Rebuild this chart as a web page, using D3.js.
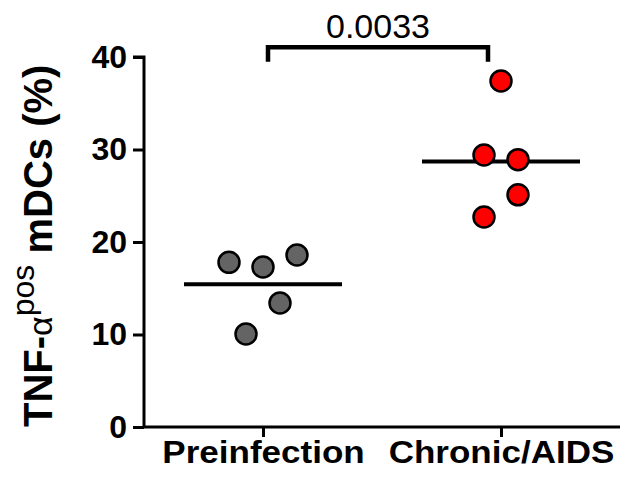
<!DOCTYPE html>
<html>
<head>
<meta charset="utf-8">
<script src="https://cdn.jsdelivr.net/npm/d3@7"></script>
<style>
  html, body { margin: 0; padding: 0; background: #fff; }
  svg { display: block; font-family: "Liberation Sans", Arial, Helvetica, sans-serif; }
</style>
</head>
<body>
<svg id="chart" width="621" height="478"></svg>
<script>
// ---- data ----
const categories = ["Preinfection", "Chronic/AIDS"];
const preinfection = [17.8, 17.3, 18.6, 13.4, 10.05];
const chronicAIDS = [37.4, 29.4, 28.9, 25.1, 22.7];
const preSlots = [-2, 0, 2, 1, -1];      // horizontal scatter slot of each point
const chronicSlots = [0, -1, 1, 1, -1];
const yTicks = [0, 10, 20, 30, 40];
const pValue = "0.0033";
const series = [
  { cat: categories[0], values: preinfection, slots: preSlots, fill: "#646464" },
  { cat: categories[1], values: chronicAIDS, slots: chronicSlots, fill: "#ff0000" }
];

const svg = d3.select("#chart");
const plotL = 144, plotR = 620, plotT = 57, plotB = 427;

const x = d3.scalePoint().domain(categories).range([plotL, plotR]).padding(0.5);
const y = d3.scaleLinear().domain([0, 40]).range([plotB, plotT]);
const slotW = 17;

// y axis
const yAxis = svg.append("g")
  .attr("transform", `translate(${plotL},0)`)
  .call(d3.axisLeft(y).tickValues(yTicks).tickSize(11).tickPadding(6).tickFormat(d3.format("d")));
yAxis.select(".domain").attr("stroke", "#000").attr("stroke-width", 3).attr("d", `M-11,${plotT}H0V${plotB}`);
yAxis.selectAll(".tick line").attr("stroke", "#000").attr("stroke-width", 3);
yAxis.selectAll(".tick text")
  .attr("fill", "#000").attr("font-size", 32).attr("font-weight", "bold")
  .attr("font-family", "Liberation Sans, Arial, sans-serif");

// x axis
const xAxis = svg.append("g")
  .attr("transform", `translate(0,${plotB})`)
  .call(d3.axisBottom(x).tickSize(10).tickPadding(4));
xAxis.select(".domain").attr("stroke", "#000").attr("stroke-width", 3).attr("d", `M${plotL},0H${plotR}`);
xAxis.selectAll(".tick line").attr("stroke", "#000").attr("stroke-width", 3);
xAxis.selectAll(".tick text")
  .attr("fill", "#000").attr("font-size", 31).attr("font-weight", "bold")
  .attr("font-family", "Liberation Sans, Arial, sans-serif")
  .attr("transform", "scale(1.13,1)");

// y title
const title = svg.append("text")
  .attr("transform", `translate(52,${plotB}) rotate(-90)`)
  .attr("text-anchor", "start")
  .attr("fill", "#000");
title.append("tspan").attr("font-size", 40).attr("font-weight", "bold").text("TNF-");
title.append("tspan").attr("font-size", 34).attr("font-weight", "normal").text("α");
title.append("tspan").attr("font-size", 32).attr("font-weight", "normal").attr("dy", -18).text("pos");
title.append("tspan").attr("font-size", 40).attr("font-weight", "bold").attr("dy", 18).text("\u00a0mDCs (%)");

// mean lines
series.forEach(s => {
  const m = d3.mean(s.values);
  svg.append("line")
    .attr("x1", x(s.cat) - 79).attr("x2", x(s.cat) + 79)
    .attr("y1", y(m)).attr("y2", y(m))
    .attr("stroke", "#000").attr("stroke-width", 4);
});

// points
series.forEach(s => {
  svg.append("g").selectAll("circle")
    .data(s.values.map((v, i) => ({ v, slot: s.slots[i] })))
    .join("circle")
    .attr("cx", d => x(s.cat) + d.slot * slotW)
    .attr("cy", d => y(d.v))
    .attr("r", 10.5)
    .attr("fill", s.fill)
    .attr("stroke", "#000")
    .attr("stroke-width", 2.5);
});

// significance bracket
const bx1 = x(categories[0]) + 5, bx2 = x(categories[1]) - 13;
const byTop = y(41.05), byLeg = y(39.5);
svg.append("path")
  .attr("d", `M${bx1},${byLeg}V${byTop}H${bx2}V${byLeg}`)
  .attr("fill", "none").attr("stroke", "#000").attr("stroke-width", 4.5);
svg.append("text")
  .attr("x", (bx1 + bx2) / 2).attr("y", 38)
  .attr("text-anchor", "middle")
  .attr("font-size", 34).attr("fill", "#000")
  .text(pValue);
</script>
</body>
</html>
